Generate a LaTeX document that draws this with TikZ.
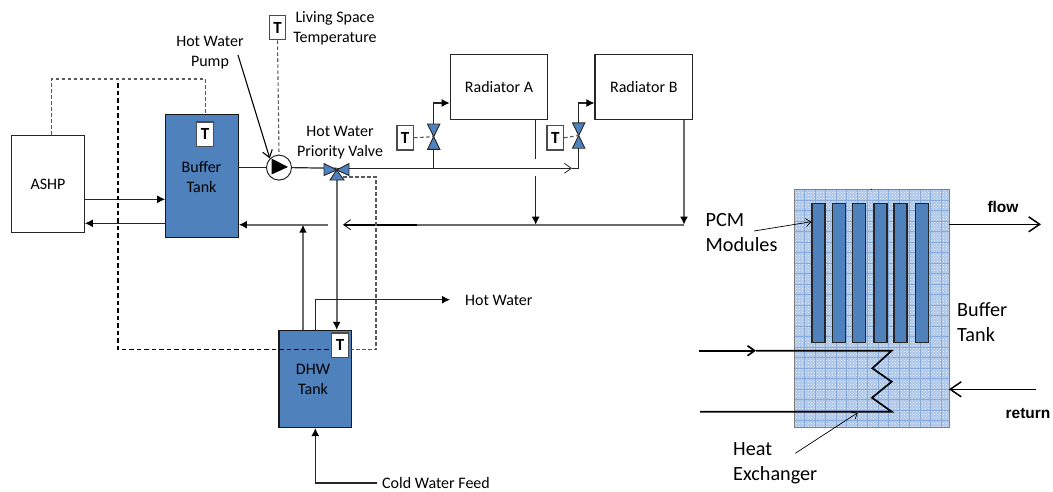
\documentclass[tikz,border=0pt]{standalone}
\usepackage{fontspec}
\usepackage{xcolor}
\usepackage{tikz}
\usetikzlibrary{arrows.meta,patterns,calc}
\setmainfont{Carlito}
\newfontfamily\arialfont{Liberation Sans}
\definecolor{tankblue}{HTML}{4F81BD}
\definecolor{pcmback}{HTML}{AEC6E8}
\definecolor{pcmgrid}{HTML}{86AADB}
\begin{document}
\begin{tikzpicture}[x=1pt,y=-1pt,
	lbl/.style={inner sep=0pt,align=center,font=\fontsize{16}{20}\selectfont},
	biglbl/.style={inner sep=0pt,align=left,font=\fontsize{20.2}{25}\selectfont},
	boldlbl/.style={inner sep=0pt,font=\arialfont\bfseries\fontsize{15.5}{16}\selectfont},
	plainbox/.style={draw=black!85,line width=1.2pt,fill=white,inner sep=0pt,lbl},
	tankbox/.style={plainbox,fill=tankblue,draw=black!90},
	tbox/.style={draw=black!70,line width=1.2pt,fill=white,inner sep=0pt,minimum width=16.5pt,minimum height=24.5pt,font=\bfseries\fontsize{17}{18}\selectfont},
	modbox/.style={draw=black!85,line width=1.1pt,fill=tankblue,minimum width=13pt,minimum height=139pt,inner sep=0pt},
	valvebox/.style={inner sep=0pt,minimum width=12pt,minimum height=25pt},
	pipe/.style={line width=1.2pt,black!85},
	greypipe/.style={line width=1.6pt,black!58},
	heavypipe/.style={line width=1.8pt,black},
	sensor/.style={line width=1.1pt,black!65,dash pattern=on 3.5pt off 2.5pt},
	ctrl/.style={line width=1.1pt,black,dash pattern=on 4.5pt off 3pt},
	shut/.style={-{Latex[length=8pt,width=8pt,black]}},
	open/.style={-{Straight Barb[length=7pt,width=10pt,line width=.8pt]}},
	bigopen/.style={-{Straight Barb[length=11pt,width=15pt]}},
	vtri/.style={fill=tankblue,draw=black!85,line width=.9pt,line join=miter}]
	% system schematic, boxes first
	\node[plainbox,minimum width=72.5pt,minimum height=97pt] (ashp) at (48,184) {ASHP};
	\node[tankbox,minimum width=72.5pt,minimum height=122.5pt] (buffer) at (202,176) {};
	\node[lbl] (bufferlbl) at (201.5,177) {Buffer\\Tank};
	\node[tankbox,minimum width=72.5pt,minimum height=97pt] (dhw) at (315.3,379) {};
	\node[lbl] (dhwlbl) at (313,379.5) {DHW\\Tank};
	\node[plainbox,minimum width=97.5pt,minimum height=65pt] (radA) at (499,86.8) {Radiator A};
	\node[plainbox,minimum width=97.5pt,minimum height=65pt] (radB) at (643.8,86.8) {Radiator B};
	\node[valvebox] (valveA) at (433.7,136.7) {};
	\node[valvebox] (valveB) at (578.7,135.5) {};
	\node[valvebox,minimum width=25pt,minimum height=10pt] (priority) at (336.7,168.3) {};
	\node[draw=black!85,line width=1pt,fill=white,circle,minimum size=25pt,inner sep=0pt] (pump) at (279,167.6) {};
	\coordinate (priorityMid) at (336.7,170);
	\coordinate (bend) at (578.7,168.3);
	\coordinate (retB) at (684,224.7);
	\coordinate (retA) at (535.7,224.7);
	\coordinate (gapA) at (535.7,159);
	\coordinate (gapB) at (535.7,176);
	\coordinate (retEnd) at (343,224.7);
	\coordinate (heavyEnd) at (417,224.7);
	\coordinate (retLeft) at (328,224.7);
	\coordinate (retDhw) at (303,224.7);
	\coordinate (openTip) at (572,168.3);
	\coordinate (hwEnd) at (450,299.7);
	\coordinate (cwEnd) at (376.7,483);
	\coordinate (ctrlTop) at (118,83);
	\coordinate (ctrlLow) at (118,349.5);
	\coordinate (valveOff) at (343,177);
	\coordinate (loopA) at (51.7,79);
	\coordinate (loopB) at (205.7,79);
	\coordinate (pumpFrom) at (238,55);

	% flow pipes
	\draw[pipe] (buffer.east |- pump.west) -- (pump.west);
	\draw[pipe] (pump.east) -- (priority.center);
	\draw[pipe,open] (priority.center) -- (openTip);
	\draw[pipe] (openTip) -- (bend) -- (valveB.south);
	\draw[pipe,shut] (valveB.north) |- (radB.west |- 0,103);
	\draw[pipe] (433.7,168.3) -- (valveA.south);
	\draw[pipe,shut] (valveA.north) |- (radA.west |- 0,103);
	\draw[pipe] (gapA |- radA.south) -- (gapA);
	\draw[pipe,shut] (gapB) -- (retA);
	\draw[greypipe,shut] (retB |- radB.south) -- (retB);
	\draw[greypipe] (retB) -- (heavyEnd);
	\draw[heavypipe,open] (heavyEnd) -- (retEnd);
	\draw[greypipe,shut] (retLeft) -- (buffer.east |- retLeft);
	\draw[greypipe,shut] (retDhw |- dhw.north) -- (retDhw);
	\draw[greypipe,shut] (priority.center |- 0,180) -- (priority.center |- dhw.north);
	\draw[pipe,shut] (ashp.east |- 0,199.3) -- (buffer.west |- 0,199.3);
	\draw[pipe,shut] (buffer.west |- 0,223.3) -- (ashp.east |- 0,223.3);
	\draw[pipe,shut] (dhw.north) |- (hwEnd);
	\draw[pipe,shut] (cwEnd) -| (dhw.south);

	% valves and pump
	\foreach \v in {valveA,valveB}{
		\draw[vtri] (\v.center) -- (\v.north west) -- (\v.north east) -- cycle;
		\draw[vtri] (\v.center) -- (\v.south west) -- (\v.south east) -- cycle;
	}
	\draw[vtri] (priorityMid) -- (324,163.5) -- (324,175.5) -- cycle;
	\draw[vtri] (priorityMid) -- (349,163.5) -- (349,175.5) -- cycle;
	\draw[vtri] (priorityMid) -- (344,180) -- (330,180) -- cycle;
	\fill[black] (271.5,158.5) -- (288,167) -- (271.5,174.5) -- cycle;

	% sensors
	\node[tbox] (tbuffer) at (205,134.3) {T};
	\node[tbox] (tliving) at (277.5,27.5) {T};
	\node[tbox] (tradA) at (405.2,137.7) {T};
	\node[tbox] (tradB) at (555.3,137.8) {T};
	\draw[sensor] (tradA.east) -- (valveA.center);
	\draw[sensor] (tradB.east) -- (valveB.center);
	\draw[sensor] (tliving.south) -- (pump.north);
	\draw[sensor] (ashp.north -| loopA) -- (loopA) -- (loopB) -- (buffer.north -| loopB);
	\draw[sensor] (valveOff) -| (376,349.5) -- (348,349.5);
	\draw[ctrl] (ctrlTop) -- (ctrlLow) -- (332,349.5);
	\node[tbox] (tdhw) at (340,345.2) {T};

	% labels
	\node[lbl] (pumplbl) at (210,53) {Hot Water\\Pump};
	\node[lbl] (livinglbl) at (335,28) {Living Space\\Temperature};
	\node[lbl] (prioritylbl) at (340,142.5) {Hot Water\\Priority Valve};
	\node[lbl,anchor=west] (hwlbl) at (465,300) {Hot Water};
	\node[lbl,anchor=west] (cwlbl) at (382,483) {Cold Water Feed};
	\draw[line width=1.1pt,black,-{Straight Barb[length=7pt,width=10pt]}] (pumpFrom) -- (pump.north west);

	% buffer tank detail
	\node[minimum width=154.4pt,minimum height=237.3pt,inner sep=0pt,fill=pcmback] (pcmtank) at (871.5,308.6) {};
	\fill[pattern=crosshatch dots,pattern color=white!85!pcmback] (pcmtank.north west) rectangle (pcmtank.south east);
	\begin{scope}[shift={(pcmtank.north west)}]
		\draw[pcmgrid,line width=.6pt,step=10.5pt] (0,0) grid (154.4,237.3);
	\end{scope}
	\draw[black!50,line width=.8pt] (pcmtank.north west) rectangle (pcmtank.south east);
	\draw[black,line width=.8pt] (871.7,188.5) -- (871.7,190);
	\foreach \mx/\mname in {818.5/modA,838.7/modB,859/modC,880.5/modD,900.5/modE,922.3/modF}{
		\node[modbox] (\mname) at (\mx,272.8) {};
	}
	\coordinate (hxIn) at (699,350.7);
	\coordinate (hxOut) at (700,411.7);
	\coordinate (hxMark) at (756,350.7);
	\draw[line width=1.7pt,black,-{Straight Barb[length=7pt,width=10pt]}] (hxIn) -- (hxMark);
	\draw[line width=1.7pt,black,line join=miter] (hxMark) -- (891.7,350.7) -- (872.3,368.3) -- (891.7,381.7) -- (872,397.7) -- (891.7,411.7) -- (hxOut);
	\coordinate (flowEnd) at (1041,224.3);
	\coordinate (returnStart) at (1036,389.3);
	\draw[line width=1.5pt,black,bigopen] (pcmtank.east |- flowEnd) -- (flowEnd);
	\draw[line width=1.5pt,black,bigopen] (returnStart) -- (pcmtank.east |- returnStart);
	\node[boldlbl] (flowlbl) at (1003,206.5) {flow};
	\node[boldlbl] (returnlbl) at (1028,414) {return};
	\node[biglbl,anchor=west] (tanklbl) at (957,322.5) {Buffer\\Tank};
	\node[biglbl,anchor=west] (pcmlbl) at (705.5,233) {PCM\\Modules};
	\node[biglbl,anchor=west] (hxlbl) at (733,463.5) {Heat\\Exchanger};
	\draw[line width=.7pt,black,-{Straight Barb[length=5pt,width=8pt]}] (754,231) -- (modA.west |- 0,221.7);
	\draw[line width=.7pt,black,-{Straight Barb[length=5pt,width=8pt]}] (795.3,453.3) -- (857.7,412.7);
	\useasboundingbox (0,0) rectangle (1053,491);
\end{tikzpicture}
\end{document}
